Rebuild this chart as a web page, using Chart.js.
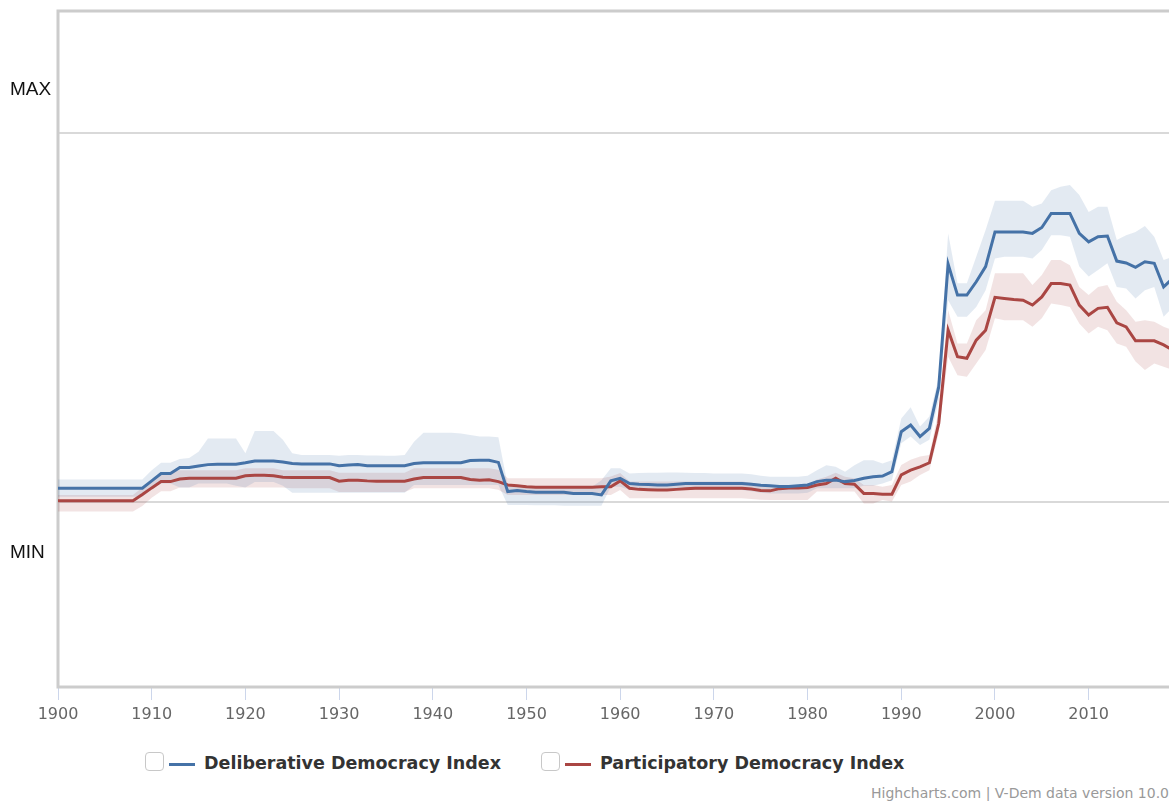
<!DOCTYPE html>
<html>
<head>
<meta charset="utf-8">
<script src="https://cdn.jsdelivr.net/npm/chart.js@4"></script>
<style>
	html, body { margin: 0; padding: 0; overflow: hidden; background: #fff; }
	#wrap { position: relative; width: 1180px; height: 740px; }
	.legend-box { position: absolute; width: 17px; height: 17px; border: 1px solid #c8c8c8; border-radius: 4px; background: #fff; }
	.legend-line { position: absolute; height: 3px; }
	.legend-text { position: absolute; font: bold 17.5px "DejaVu Sans", sans-serif; color: #333; white-space: nowrap; }
	#credits { position: absolute; left: 871px; top: 785px; font: 14px "DejaVu Sans", sans-serif; color: #999; white-space: nowrap; }
</style>
</head>
<body>
<div id="wrap"><canvas id="chart"></canvas></div>

<div class="legend-box" style="left:145px; top:752px;"></div>
<div class="legend-line" style="left:169px; top:763px; width:26px; background:#4572a7;"></div>
<div class="legend-text" style="left:204px; top:753px;">Deliberative Democracy Index</div>

<div class="legend-box" style="left:541px; top:752px;"></div>
<div class="legend-line" style="left:565px; top:763px; width:26px; background:#aa4643;"></div>
<div class="legend-text" style="left:600px; top:753px;">Participatory Democracy Index</div>

<div id="credits">Highcharts.com | V-Dem data version 10.0</div>

<script>
// Yearly series, 1900..2019
const firstYear = 1900;
const xTickYears = [1900, 1910, 1920, 1930, 1940, 1950, 1960, 1970, 1980, 1990, 2000, 2010];
const yGridValues = [0, 1];
const yLabels = ['MIN', 'MAX'];

const deliberative = [
	0.038, 0.038, 0.038, 0.038, 0.038, 0.038, 0.038, 0.038, 0.038, 0.038,
	0.058, 0.078, 0.078, 0.094, 0.094, 0.098, 0.102, 0.103, 0.103, 0.103,
	0.107, 0.112, 0.112, 0.112, 0.109, 0.105, 0.104, 0.104, 0.104, 0.104,
	0.099, 0.101, 0.102, 0.099, 0.099, 0.099, 0.099, 0.099, 0.105, 0.107,
	0.107, 0.107, 0.107, 0.107, 0.113, 0.114, 0.114, 0.108, 0.029, 0.032,
	0.029, 0.027, 0.027, 0.027, 0.027, 0.024, 0.024, 0.024, 0.020, 0.058,
	0.065, 0.051, 0.049, 0.048, 0.047, 0.047, 0.049, 0.051, 0.051, 0.051,
	0.051, 0.051, 0.051, 0.051, 0.049, 0.046, 0.045, 0.043, 0.043, 0.045,
	0.047, 0.056, 0.060, 0.060, 0.056, 0.059, 0.065, 0.069, 0.071, 0.083,
	0.191, 0.209, 0.178, 0.200, 0.313, 0.645, 0.561, 0.561, 0.597, 0.638,
	0.732, 0.732, 0.732, 0.732, 0.728, 0.744, 0.782, 0.782, 0.782, 0.728,
	0.705, 0.719, 0.721, 0.653, 0.648, 0.636, 0.651, 0.647, 0.583, 0.607
];
const deliberativeHigh = [
	0.062, 0.062, 0.062, 0.062, 0.062, 0.062, 0.062, 0.062, 0.062, 0.062,
	0.087, 0.107, 0.107, 0.117, 0.120, 0.137, 0.173, 0.173, 0.173, 0.173,
	0.133, 0.193, 0.193, 0.193, 0.169, 0.133, 0.128, 0.128, 0.128, 0.128,
	0.126, 0.128, 0.128, 0.127, 0.127, 0.126, 0.126, 0.128, 0.164, 0.188,
	0.188, 0.188, 0.188, 0.186, 0.182, 0.178, 0.178, 0.176, 0.045, 0.042,
	0.042, 0.042, 0.042, 0.042, 0.042, 0.042, 0.042, 0.042, 0.060, 0.092,
	0.092, 0.078, 0.079, 0.080, 0.080, 0.081, 0.081, 0.080, 0.079, 0.079,
	0.078, 0.078, 0.078, 0.078, 0.076, 0.072, 0.069, 0.069, 0.069, 0.069,
	0.072, 0.087, 0.100, 0.096, 0.083, 0.100, 0.114, 0.114, 0.105, 0.114,
	0.227, 0.257, 0.205, 0.232, 0.340, 0.728, 0.593, 0.593, 0.665, 0.737,
	0.816, 0.816, 0.816, 0.816, 0.800, 0.809, 0.845, 0.854, 0.859, 0.832,
	0.786, 0.800, 0.800, 0.710, 0.723, 0.732, 0.748, 0.719, 0.656, 0.665
];
const deliberativeLow = [
	0.015, 0.015, 0.015, 0.015, 0.015, 0.015, 0.015, 0.015, 0.015, 0.015,
	0.035, 0.051, 0.051, 0.040, 0.040, 0.051, 0.051, 0.051, 0.051, 0.045,
	0.040, 0.055, 0.055, 0.055, 0.045, 0.026, 0.026, 0.026, 0.026, 0.026,
	0.026, 0.026, 0.026, 0.026, 0.026, 0.026, 0.026, 0.026, 0.047, 0.047,
	0.047, 0.047, 0.047, 0.047, 0.047, 0.047, 0.047, 0.047, -0.007, -0.007,
	-0.007, -0.008, -0.008, -0.008, -0.009, -0.009, -0.009, -0.009, -0.009, 0.042,
	0.042, 0.033, 0.033, 0.033, 0.033, 0.033, 0.033, 0.033, 0.033, 0.033,
	0.033, 0.033, 0.033, 0.033, 0.030, 0.026, 0.024, 0.024, 0.024, 0.024,
	0.026, 0.038, 0.038, 0.038, 0.038, 0.038, 0.045, 0.045, 0.051, 0.060,
	0.160, 0.178, 0.155, 0.169, 0.277, 0.547, 0.502, 0.502, 0.529, 0.574,
	0.660, 0.665, 0.665, 0.665, 0.660, 0.683, 0.723, 0.723, 0.719, 0.638,
	0.611, 0.629, 0.647, 0.583, 0.579, 0.552, 0.574, 0.583, 0.502, 0.529
];

const participatory = [
	0.004, 0.004, 0.004, 0.004, 0.004, 0.004, 0.004, 0.004, 0.004, 0.021,
	0.039, 0.056, 0.056, 0.063, 0.065, 0.065, 0.065, 0.065, 0.065, 0.065,
	0.072, 0.073, 0.073, 0.072, 0.068, 0.067, 0.067, 0.067, 0.067, 0.067,
	0.057, 0.060, 0.060, 0.058, 0.057, 0.057, 0.057, 0.057, 0.063, 0.067,
	0.067, 0.067, 0.067, 0.067, 0.062, 0.060, 0.061, 0.056, 0.047, 0.045,
	0.042, 0.041, 0.041, 0.041, 0.041, 0.041, 0.041, 0.041, 0.042, 0.042,
	0.058, 0.038, 0.035, 0.034, 0.033, 0.033, 0.035, 0.037, 0.038, 0.038,
	0.038, 0.038, 0.038, 0.038, 0.036, 0.032, 0.031, 0.037, 0.039, 0.039,
	0.040, 0.047, 0.051, 0.065, 0.051, 0.049, 0.024, 0.024, 0.022, 0.022,
	0.074, 0.087, 0.096, 0.107, 0.214, 0.466, 0.394, 0.390, 0.439, 0.466,
	0.555, 0.552, 0.549, 0.547, 0.534, 0.556, 0.592, 0.592, 0.588, 0.534,
	0.507, 0.525, 0.528, 0.486, 0.475, 0.437, 0.437, 0.437, 0.426, 0.412
];
const participatoryHigh = [
	0.020, 0.020, 0.020, 0.020, 0.020, 0.020, 0.020, 0.020, 0.020, 0.040,
	0.060, 0.080, 0.082, 0.087, 0.087, 0.087, 0.087, 0.087, 0.087, 0.087,
	0.092, 0.092, 0.092, 0.092, 0.087, 0.087, 0.087, 0.087, 0.087, 0.087,
	0.080, 0.080, 0.080, 0.080, 0.080, 0.080, 0.080, 0.080, 0.092, 0.092,
	0.092, 0.092, 0.092, 0.092, 0.092, 0.092, 0.092, 0.088, 0.065, 0.065,
	0.065, 0.065, 0.065, 0.065, 0.065, 0.065, 0.065, 0.065, 0.065, 0.070,
	0.079, 0.056, 0.056, 0.056, 0.056, 0.056, 0.056, 0.056, 0.056, 0.056,
	0.056, 0.056, 0.056, 0.056, 0.053, 0.049, 0.047, 0.047, 0.047, 0.047,
	0.047, 0.062, 0.069, 0.080, 0.069, 0.065, 0.047, 0.047, 0.042, 0.047,
	0.101, 0.115, 0.124, 0.128, 0.250, 0.520, 0.430, 0.430, 0.493, 0.520,
	0.620, 0.620, 0.620, 0.620, 0.588, 0.615, 0.656, 0.656, 0.642, 0.583,
	0.561, 0.583, 0.588, 0.543, 0.520, 0.489, 0.493, 0.489, 0.475, 0.466
];
const participatoryLow = [
	-0.025, -0.025, -0.025, -0.025, -0.025, -0.025, -0.025, -0.025, -0.025, -0.010,
	0.012, 0.030, 0.030, 0.040, 0.040, 0.040, 0.040, 0.040, 0.040, 0.040,
	0.040, 0.040, 0.040, 0.040, 0.040, 0.038, 0.038, 0.038, 0.038, 0.038,
	0.028, 0.028, 0.028, 0.028, 0.028, 0.028, 0.028, 0.028, 0.038, 0.038,
	0.038, 0.038, 0.038, 0.038, 0.038, 0.038, 0.038, 0.034, 0.020, 0.020,
	0.020, 0.020, 0.020, 0.020, 0.020, 0.020, 0.020, 0.020, 0.020, 0.020,
	0.033, 0.011, 0.011, 0.011, 0.011, 0.011, 0.011, 0.011, 0.011, 0.011,
	0.011, 0.011, 0.011, 0.011, 0.009, 0.007, 0.006, 0.006, 0.006, 0.006,
	0.006, 0.029, 0.029, 0.029, 0.029, 0.029, -0.003, -0.003, 0.006, 0.002,
	0.047, 0.056, 0.074, 0.087, 0.187, 0.394, 0.344, 0.340, 0.376, 0.412,
	0.498, 0.493, 0.493, 0.493, 0.475, 0.498, 0.538, 0.534, 0.529, 0.484,
	0.457, 0.475, 0.466, 0.430, 0.421, 0.381, 0.358, 0.376, 0.367, 0.358
];

const blue = '#4572a7';
const red = '#aa4643';
const blueBand = 'rgba(69, 114, 167, 0.15)';
const redBand = 'rgba(170, 70, 67, 0.15)';

// Turn a yearly array into {x, y} points
function toPoints(values) {
	return values.map((v, i) => ({ x: firstYear + i, y: v }));
}

function bandLow(values) {
	return {
		data: toPoints(values), borderWidth: 0, pointRadius: 0, fill: false, order: 3
	};
}

function bandHigh(values, color) {
	return {
		data: toPoints(values), borderWidth: 0, pointRadius: 0,
		fill: '-1', backgroundColor: color, order: 3
	};
}

function mainLine(label, values, color) {
	return {
		label: label, data: toPoints(values), borderColor: color, borderWidth: 3,
		pointRadius: 0, fill: false, tension: 0, order: 1
	};
}

// Gray frame round the plot plus the MIN / MAX captions
const plotFrame = {
	id: 'plotFrame',
	beforeDatasetsDraw(chart) {
		const a = chart.chartArea;
		const ctx = chart.ctx;
		ctx.save();
		ctx.strokeStyle = '#cccccc';
		ctx.lineWidth = 3;
		ctx.strokeRect(a.left, a.top, a.right - a.left, a.bottom - a.top);
		ctx.restore();
	},
	afterDraw(chart) {
		const y = chart.scales.y;
		const ctx = chart.ctx;
		ctx.save();
		ctx.font = '19px "Liberation Sans", Arial, sans-serif';
		ctx.fillStyle = '#111';
		ctx.textAlign = 'left';
		ctx.textBaseline = 'middle';
		ctx.fillText(yLabels[1], 10, y.getPixelForValue(yGridValues[1]) - 43);
		ctx.fillText(yLabels[0], 10, y.getPixelForValue(yGridValues[0]) + 50);
		ctx.restore();
	}
};

window.onload = function() {
	const ctx = document.getElementById('chart');
	new Chart(ctx, {
		type: 'line',
		data: {
			datasets: [
				bandLow(deliberativeLow),
				bandHigh(deliberativeHigh, blueBand),
				bandLow(participatoryLow),
				bandHigh(participatoryHigh, redBand),
				mainLine('Deliberative Democracy Index', deliberative, blue),
				mainLine('Participatory Democracy Index', participatory, red)
			]
		},
		options: {
			responsive: true,
			maintainAspectRatio: false,
			animation: false,
			layout: { padding: { top: 11, left: 0, right: 7, bottom: 0 } },
			plugins: { legend: { display: false }, tooltip: { enabled: false } },
			scales: {
				x: {
					type: 'linear',
					min: 1900,
					max: 2019,
					afterBuildTicks(scale) {
						scale.ticks = xTickYears.map(v => ({ value: v }));
					},
					afterFit(scale) { scale.height = 53; },
					ticks: {
						callback: v => String(v),
						color: '#666',
						font: { family: '"DejaVu Sans", sans-serif', size: 16 },
						padding: 5,
						maxRotation: 0
					},
					grid: { drawOnChartArea: false, drawTicks: true, tickLength: 13, color: '#ccd6eb', lineWidth: 1 },
					border: { display: false }
				},
				y: {
					min: -0.5,
					max: 1.33,
					afterBuildTicks(scale) {
						scale.ticks = yGridValues.map(v => ({ value: v }));
					},
					afterFit(scale) { scale.width = 58; },
					ticks: { display: false },
					grid: { color: '#d9d9d9', lineWidth: 2, drawTicks: false },
					border: { display: false }
				}
			}
		},
		plugins: [plotFrame]
	});
};
</script>
</body>
</html>
